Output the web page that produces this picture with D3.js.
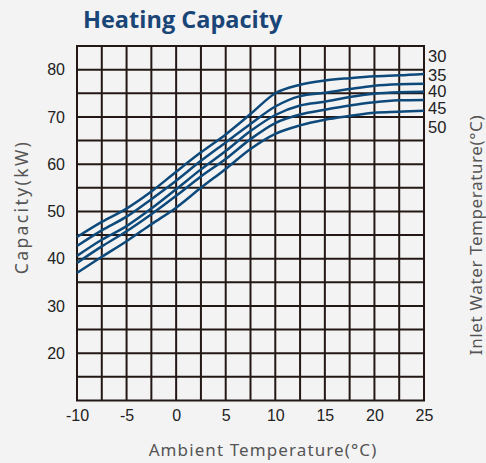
<!DOCTYPE html>
<html>
<head>
<meta charset="utf-8">
<script src="https://cdn.jsdelivr.net/npm/d3@7"></script>
<style>
  html, body { margin: 0; padding: 0; background: #f3f3f3; }
  svg { display: block; }
</style>
</head>
<body>
<svg id="chart" width="486" height="463"></svg>
<script>
// ---- data ----
const ambientTemps = [-10, -7.5, -5, -2.5, 0, 2.5, 5, 7.5, 10, 12.5, 15, 17.5, 20, 22.5, 25];
const inletLabels = ["30", "35", "40", "45", "50"];
const cap30 = [44.6, 47.8, 50.6, 54.2, 58.4, 62.5, 66.3, 70.6, 75.0, 76.8, 77.7, 78.2, 78.6, 78.8, 79.1];
const cap35 = [42.7, 46.0, 48.9, 52.6, 56.5, 60.7, 64.6, 68.5, 72.2, 74.4, 75.1, 75.9, 76.6, 76.9, 77.0];
const cap40 = [40.6, 44.0, 46.9, 50.6, 54.7, 58.9, 62.8, 67.0, 70.4, 72.4, 73.2, 74.2, 74.9, 75.2, 75.3];
const cap45 = [39.1, 42.6, 45.8, 49.4, 53.3, 57.4, 61.1, 65.3, 68.7, 70.5, 71.5, 72.4, 73.1, 73.5, 73.6];
const cap50 = [37.0, 40.4, 43.7, 47.3, 50.8, 55.0, 59.0, 63.2, 66.4, 68.2, 69.4, 70.2, 70.9, 71.1, 71.3];
const series = [cap30, cap35, cap40, cap45, cap50];
const xTicks = [-10, -5, 0, 5, 10, 15, 20, 25];
const yTicks = [20, 30, 40, 50, 60, 70, 80];
const xGrid = d3.range(-10, 25.01, 2.5);
const yGrid = d3.range(10, 85.01, 5);

// ---- layout ----
const svg = d3.select("#chart");
const pLeft = 77, pRight = 424, pTop = 46, pBottom = 400.5;
const x = d3.scaleLinear().domain([-10, 25]).range([pLeft, pRight]);
const y = d3.scaleLinear().domain([10, 85]).range([pBottom, pTop]);

const gridColor = "#231815";
const lineColor = "#0d4a7b";
const labelFont = "'Liberation Sans', Arial, sans-serif";
const titleFont = "'Noto Sans', sans-serif";

// title
svg.append("text")
  .attr("x", 83).attr("y", 28)
  .attr("font-family", "'Open Sans', sans-serif")
  .attr("font-weight", 700)
  .attr("font-size", 23.5)
  .attr("fill", "#1a4577")
  .text("Heating Capacity");

// grid
const grid = svg.append("g");
grid.selectAll("line.v").data(xGrid).enter().append("line")
  .attr("x1", d => x(d)).attr("x2", d => x(d))
  .attr("y1", pTop).attr("y2", pBottom)
  .attr("stroke", gridColor).attr("stroke-width", 2);
grid.selectAll("line.h").data(yGrid).enter().append("line")
  .attr("y1", d => y(d)).attr("y2", d => y(d))
  .attr("x1", pLeft - 1).attr("x2", pRight + 1)
  .attr("stroke", gridColor).attr("stroke-width", 2);

// axes labels (ticks via d3 axes)
const xAxis = svg.append("g")
  .attr("transform", `translate(0,${pBottom})`)
  .call(d3.axisBottom(x).tickValues(xTicks).tickSize(0).tickPadding(9).tickFormat(d => String(d)));
xAxis.select(".domain").remove();
xAxis.selectAll("text")
  .attr("font-family", labelFont).attr("font-size", 16).attr("fill", "#222");

const yAxis = svg.append("g")
  .attr("transform", `translate(${pLeft},0)`)
  .call(d3.axisLeft(y).tickValues(yTicks).tickSize(0).tickPadding(12).tickFormat(d => String(d)));
yAxis.select(".domain").remove();
yAxis.selectAll("text")
  .attr("font-family", labelFont).attr("font-size", 16).attr("fill", "#222");

// curves
const line = d3.line()
  .x((d, i) => x(ambientTemps[i]))
  .y(d => y(d))
  .curve(d3.curveMonotoneX);
svg.append("g").selectAll("path").data(series).enter().append("path")
  .attr("d", d => line(d))
  .attr("fill", "none")
  .attr("stroke", lineColor)
  .attr("stroke-width", 2.5);

// right-side inlet labels
const labelY = [56.5, 75, 91.5, 108, 127.5];
svg.append("g").selectAll("text").data(inletLabels).enter().append("text")
  .attr("x", 428)
  .attr("y", (d, i) => labelY[i])
  .attr("dy", "0.35em")
  .attr("font-family", labelFont)
  .attr("font-size", 16.5)
  .attr("fill", "#222")
  .text(d => d);

// axis titles
svg.append("text")
  .attr("x", 263).attr("y", 456)
  .attr("text-anchor", "middle")
  .attr("font-family", titleFont)
  .attr("font-size", 17)
  .attr("letter-spacing", 1.1)
  .attr("fill", "#555")
  .text("Ambient  Temperature(°C)");

svg.append("text")
  .attr("transform", "translate(28,207) rotate(-90)")
  .attr("text-anchor", "middle")
  .attr("font-family", titleFont)
  .attr("font-size", 17.5)
  .attr("letter-spacing", 2.4)
  .attr("fill", "#555")
  .text("Capacity(kW)");

svg.append("text")
  .attr("transform", "translate(482,235) rotate(-90)")
  .attr("text-anchor", "middle")
  .attr("font-family", titleFont)
  .attr("font-size", 17)
  .attr("letter-spacing", 0.6)
  .attr("fill", "#555")
  .text("Inlet Water Temperature(°C)");
</script>
</body>
</html>
